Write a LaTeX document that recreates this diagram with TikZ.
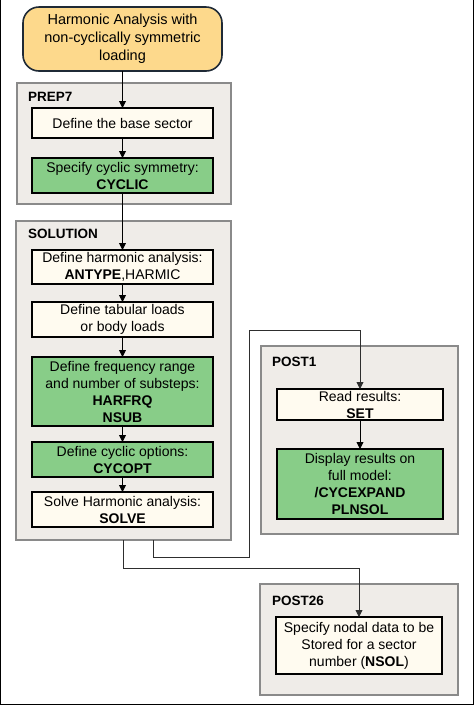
\documentclass[tikz,border=0pt]{standalone}
\usepackage{fontspec}
\setmainfont{Liberation Sans}
\usepackage{tikz}
\usetikzlibrary{arrows.meta, positioning, calc}
\definecolor{termfill}{HTML}{FDD98C}
\definecolor{termline}{HTML}{1F2A36}
\definecolor{groupfill}{HTML}{EFECE8}
\definecolor{groupline}{HTML}{8A8A8A}
\definecolor{creamfill}{HTML}{FFFBF0}
\definecolor{cmdfill}{HTML}{88CD88}
\definecolor{linkline}{HTML}{2E2E2E}

\begin{document}
\begin{tikzpicture}[
        x=1pt, y=-1pt,
        every node/.style={font=\fontsize{14}{17}\selectfont, align=center, inner sep=0pt, outer sep=0pt},
        term/.style={rectangle, draw=termline, line width=1.6pt, rounded corners=16pt, fill=termfill, minimum width=199pt, minimum height=64pt, font=\fontsize{14.5}{18}\selectfont},
        group/.style={rectangle, draw=groupline, line width=1.8pt, fill=groupfill},
        glabel/.style={anchor=west, font=\fontsize{13.5}{16}\selectfont\bfseries},
        stepbox/.style={rectangle, draw=black, line width=1.6pt, fill=creamfill, minimum width=181pt},
        cmdbox/.style={stepbox, fill=cmdfill},
        postbox/.style={stepbox, minimum width=166pt},
        arr/.style={-{Triangle[length=7pt, width=7pt]}, line width=0.9pt},
        link/.style={arr, draw=linkline}
    ]
        \useasboundingbox (0,0) rectangle (474,705);
        \draw[line width=1.2pt] (0.6,0) -- (0.6,704.4) -- (473.4,704.4) -- (473.4,0);

        % Groups
        \node[group, minimum width=214pt, minimum height=121pt] (prep) at (124,143.5) {};
        \node[glabel] at (28,97) {PREP7};
        \node[group, minimum width=215pt, minimum height=319pt] (sol) at (123.5,380.5) {};
        \node[glabel] at (28,234) {SOLUTION};
        \node[group, minimum width=197pt, minimum height=188pt] (post1) at (359.5,440) {};
        \node[glabel] at (272,362) {POST1};
        \node[group, minimum width=198pt, minimum height=111pt] (post26) at (359,639.5) {};
        \node[glabel] at (272,601) {POST26};

        % Start
        \node[term] (start) at (122.5,39) {Harmonic Analysis with\\non-cyclically symmetric\\loading};

        % PREP7
        \node[stepbox, minimum height=30pt] (base) at (122.5,123) {Define the base sector};
        \node[cmdbox, minimum height=35pt] (cyclic) at (122.5,175.5) {Specify cyclic symmetry:\\\textbf{CYCLIC}};

        % SOLUTION
        \node[stepbox, minimum height=34pt] (antype) at (122.5,267) {Define harmonic analysis:\\\textbf{ANTYPE},HARMIC};
        \node[stepbox, minimum height=35pt] (loads) at (122.5,319.5) {Define tabular loads\\or body loads};
        \node[cmdbox, minimum height=69pt] (harfrq) at (122.5,391.5) {Define frequency range\\and number of substeps:\\\textbf{HARFRQ}\\\textbf{NSUB}};
        \node[cmdbox, minimum height=35pt] (cycopt) at (122.5,459.5) {Define cyclic options:\\\textbf{CYCOPT}};
        \node[stepbox, minimum height=35pt] (solve) at (122.5,509.5) {Solve Harmonic analysis:\\\textbf{SOLVE}};

        % POST1
        \node[postbox, minimum height=31pt] (set) at (360,404.5) {Read results:\\\textbf{SET}};
        \node[cmdbox, minimum width=166pt, minimum height=70pt] (plnsol) at (360,484) {Display results on\\full model:\\\textbf{/CYCEXPAND}\\\textbf{PLNSOL}};

        % POST26
        \node[postbox, minimum height=57pt] (nsol) at (359,645.5) {Specify nodal data to be\\Stored for a sector\\number (\textbf{NSOL})};

        % Arrows
        \draw[arr] (start) -- (base);
        \draw[arr] (base) -- (cyclic);
        \draw[arr] (cyclic) -- (antype);
        \draw[arr] (antype) -- (loads);
        \draw[arr] (loads) -- (harfrq);
        \draw[arr] (harfrq) -- (cycopt);
        \draw[arr] (cycopt) -- (solve);
        \draw[arr] (set) -- (plnsol);

        \coordinate (out1) at (123.5,540);
        \coordinate (out2) at (153.5,540);
        \coordinate (turn) at (249,330);
        \draw[link] (out2) -- ++(0,17) -| (turn) -| (set.north);
        \draw[link] (out1) -- ++(0,28) -| (nsol.north);
    \end{tikzpicture}
\end{document}
